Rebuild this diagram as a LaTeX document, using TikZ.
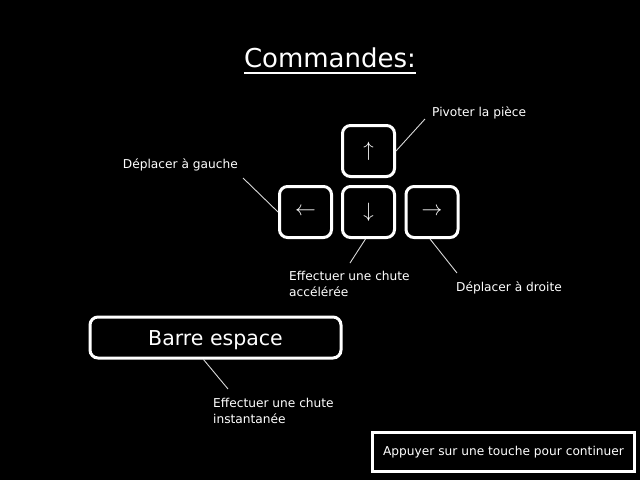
\documentclass[tikz,border=0pt]{standalone}
\usepackage{fontspec}
\setmainfont{DejaVu Sans}
\usepackage{tikz}
\usetikzlibrary{positioning}

\begin{document}
\begin{tikzpicture}[x=1pt,y=-1pt,
key/.style={draw=white,line width=3pt,rounded corners=8pt,minimum width=52pt,minimum height=51pt,text=white,font=\fontsize{21}{21}\selectfont},
bar/.style={draw=white,line width=3pt,rounded corners=8pt,minimum width=251pt,minimum height=41pt,text=white,font=\fontsize{20.5}{24}\selectfont},
lbl/.style={text=white,font=\fontsize{12.2}{16}\selectfont,align=left,inner sep=0pt},
con/.style={draw=white!85!black,line width=0.9pt}
]
\fill[black] (0,0) rectangle (640,480);
\useasboundingbox (0,0) rectangle (640,480);
% title
\node[text=white,font=\fontsize{26}{30}\selectfont,inner sep=0pt] (title) at (330,58) {Commandes:};
\draw[white,line width=2pt] (244,73) -- (416,73);
% keys
\node[key] (down) at (368.5,212) {$\downarrow$};
\node[key] (up) at (368.5,151) {$\uparrow$};
\node[key] (left) at (305.5,212) {$\leftarrow$};
\node[key] (right) at (432,212) {$\rightarrow$};
\node[bar,text depth=0pt] (space) at (215.5,337.5) {\raisebox{-2pt}{Barre espace}};
% labels
\node[lbl,anchor=west] (lrot) at (432,113) {Pivoter la pièce};
\node[lbl,anchor=east] (lgauche) at (238,165) {Déplacer à gauche};
\node[lbl,anchor=north west] (laccel) at (289,271) {Effectuer une chute\\accélérée};
\node[lbl,anchor=west] (ldroite) at (456,288) {Déplacer à droite};
\node[lbl,anchor=north west] (linst) at (213,398) {Effectuer une chute\\instantanée};
% connectors
\coordinate (crot) at (425,119);
\coordinate (cgauche) at (243,178);
\coordinate (caccel) at (350,263);
\coordinate (cdroite) at (457,273);
\coordinate (cinst) at (228,389);
\draw[con] (up.east)--(crot);
\draw[con] (cgauche)--(left.west);
\draw[con] ([xshift=-3pt]down.south)--(caccel);
\draw[con] ([xshift=-2pt]right.south)--(cdroite);
\draw[con] ([xshift=-12pt]space.south)--(cinst);
% continue box
\node[draw=white,line width=3pt,minimum width=262pt,minimum height=39pt,text=white,font=\fontsize{12.2}{16}\selectfont] (cont) at (503.5,452) {Appuyer sur une touche pour continuer};
\end{tikzpicture}
\end{document}
